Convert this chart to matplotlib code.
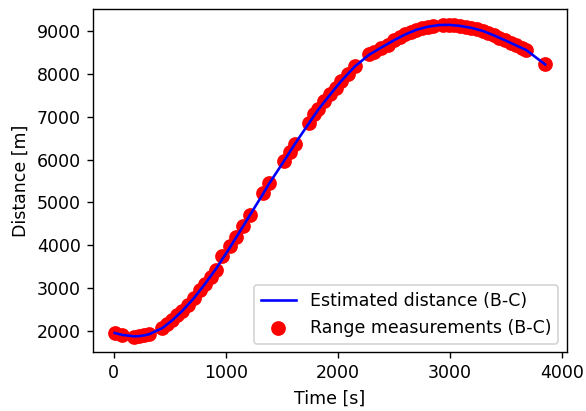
import matplotlib
matplotlib.use("Agg")
import matplotlib.pyplot as plt

# range measurements between B and C
meas_time = [
    9, 77, 181, 226, 271, 315,
    434, 479, 524, 568, 613, 663, 717, 770, 812, 866, 911, 970, 1038, 1089, 1149, 1217,
    1336, 1387,
    1515, 1574, 1620,
    1744, 1789, 1825, 1878, 1932, 1982, 2027, 2086, 2152,
    2280, 2324, 2384, 2443, 2500, 2550, 2600, 2650, 2700, 2750, 2800, 2850,
    2940, 2990, 3035,
    3090, 3140, 3190, 3240, 3290, 3340, 3390, 3440, 3490, 3540, 3590, 3640, 3680,
    3848,
]
meas_distance = [
    1946, 1895, 1860, 1870, 1888, 1925,
    2065, 2150, 2245, 2360, 2460, 2600, 2760, 2960, 3090, 3260, 3420, 3755, 3974, 4184, 4440, 4704,
    5217, 5450,
    5955, 6180, 6370,
    6865, 7058, 7175, 7368, 7524, 7680, 7834, 7990, 8184,
    8457, 8511, 8613, 8690, 8785, 8860, 8925, 8985, 9035, 9075, 9105, 9133,
    9155, 9152, 9145,
    9125, 9102, 9080, 9048, 9010, 8962, 8902, 8842, 8790, 8730, 8668, 8600, 8560,
    8224,
]

# estimated (filtered) distance B-C
est_time = [
    9, 77, 181, 226, 271, 315, 434, 524, 613, 717, 812, 911, 1038, 1149, 1217,
    1336, 1387, 1515, 1620, 1744, 1825, 1932, 2027, 2152, 2280, 2384, 2500,
    2600, 2700, 2800, 2900, 2990, 3090, 3190, 3290, 3390, 3490, 3590, 3680, 3848,
]
est_distance = [
    1945, 1900, 1868, 1872, 1888, 1915, 2060, 2245, 2465, 2765, 3085, 3440, 3950, 4420, 4710,
    5215, 5440, 5950, 6380, 6860, 7170, 7525, 7830, 8180, 8455, 8615, 8790,
    8925, 9035, 9105, 9145, 9150, 9125, 9080, 9010, 8905, 8790, 8668, 8560, 8224,
]

fig, ax = plt.subplots(figsize=(586 / 125, 411 / 125), dpi=125)
fig.subplots_adjust(left=0.159, right=0.967, bottom=0.143, top=0.978)

ax.plot(est_time, est_distance, color="blue", label="Estimated distance (B-C)", zorder=3)
ax.scatter(meas_time, meas_distance, color="red", s=56, label="Range measurements (B-C)", zorder=2)

ax.set_xlabel("Time [s]")
ax.set_ylabel("Distance [m]")
ax.set_xticks([0, 1000, 2000, 3000, 4000])
ax.legend(loc="lower right")

fig.savefig("out.png", dpi=125)
